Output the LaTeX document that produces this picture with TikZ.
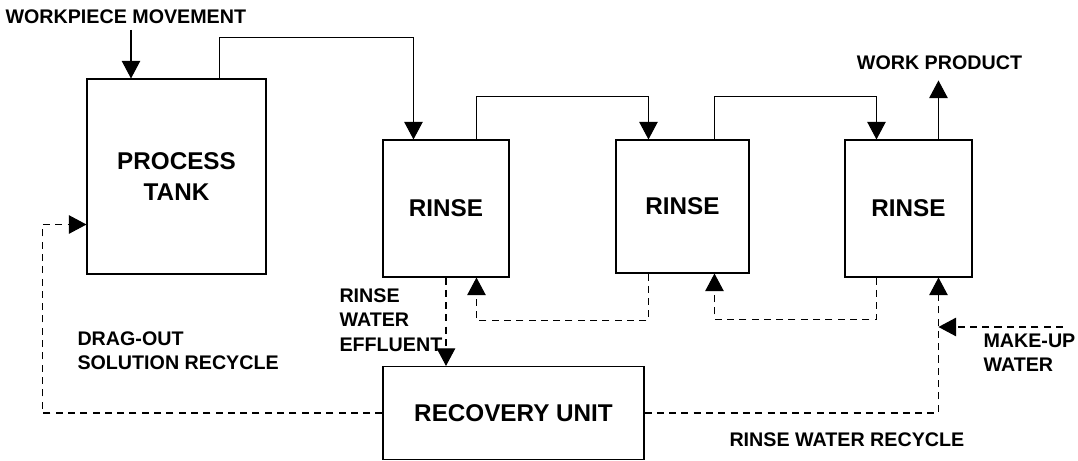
\documentclass[tikz,border=0pt]{standalone}
\usepackage{fontspec}
\setmainfont{Liberation Sans}
\usetikzlibrary{arrows.meta}

\begin{document}
\begin{tikzpicture}[line width=0.6pt,
  box/.style={draw,rectangle,inner sep=0pt,align=center,font=\fontsize{13.8}{17.6}\selectfont\bfseries},
  lbl/.style={inner sep=0pt,align=left,font=\fontsize{11.2}{14}\selectfont\bfseries},
  flow/.style={-{Triangle[width=10.5pt,length=10pt]}},
  ret/.style={flow,dash pattern=on 4pt off 3pt}]
  \useasboundingbox (0,0) rectangle (21.56,9.22);
  % tanks
  \node[box,minimum width=3.58cm,minimum height=3.9cm] (tank) at (3.53,5.69) {PROCESS\\TANK};
  \node[box,minimum width=2.52cm,minimum height=2.74cm] (rinse1) at (8.92,5.05) {RINSE};
  \node[box,minimum width=2.66cm,minimum height=2.66cm] (rinse2) at (13.65,5.09) {RINSE};
  \node[box,minimum width=2.54cm,minimum height=2.74cm] (rinse3) at (18.17,5.05) {RINSE};
  \node[box,minimum width=5.22cm,minimum height=1.86cm] (rec) at (10.27,0.96) {RECOVERY UNIT};
  \coordinate (wp) at (2.62,8.62); \coordinate (mu) at (21.26,2.68);
  \coordinate (r3in) at ([xshift=1.88cm]rinse3.south west);
  % workpiece path
  \draw[flow] (wp) -- (wp |- tank.north);
  \draw[flow] ([xshift=2.66cm]tank.north west) -- ++(0,0.82) -| ([xshift=0.62cm]rinse1.north west);
  \draw[flow] ([xshift=1.88cm]rinse1.north west) -- ++(0,0.86) -| ([xshift=0.66cm]rinse2.north west);
  \draw[flow] ([xshift=1.98cm]rinse2.north west) -- ++(0,0.86) -| ([xshift=0.64cm]rinse3.north west);
  \draw[flow] ([xshift=1.88cm]rinse3.north west) -- ++(0,1.18);
  % water
  \draw[ret] ([xshift=0.64cm]rinse3.south west) -- ++(0,-0.84) -| ([xshift=1.98cm]rinse2.south west);
  \draw[ret] ([xshift=0.66cm]rinse2.south west) -- ++(0,-0.94) -| ([xshift=1.88cm]rinse1.south west);
  \draw[ret] (rinse1.south) -- (rinse1.south |- rec.north);
  \draw[ret] (rec.east) -| (r3in);
  \draw[ret] (mu) -- (mu -| r3in);
  \draw[ret] (rec.west) -| ([xshift=-0.88cm,yshift=1cm]tank.south west) -- ([yshift=1cm]tank.south west);
  % labels
  \node[lbl,anchor=base west] (lwp) at (0.1,8.74) {WORKPIECE MOVEMENT};
  \node[lbl,anchor=base] (lwork) at (18.79,7.82) {WORK PRODUCT};
  \node[lbl,anchor=north west] (ldrag) at (1.54,2.60) {DRAG-OUT\\SOLUTION RECYCLE};
  \node[lbl,anchor=north west] (leff) at (6.78,3.46) {RINSE\\WATER\\EFFLUENT};
  \node[lbl,anchor=north west] (lmu) at (19.66,2.56) {MAKE-UP\\WATER};
  \node[lbl,anchor=base west] (lrec) at (14.58,0.28) {RINSE WATER RECYCLE};
\end{tikzpicture}
\end{document}
